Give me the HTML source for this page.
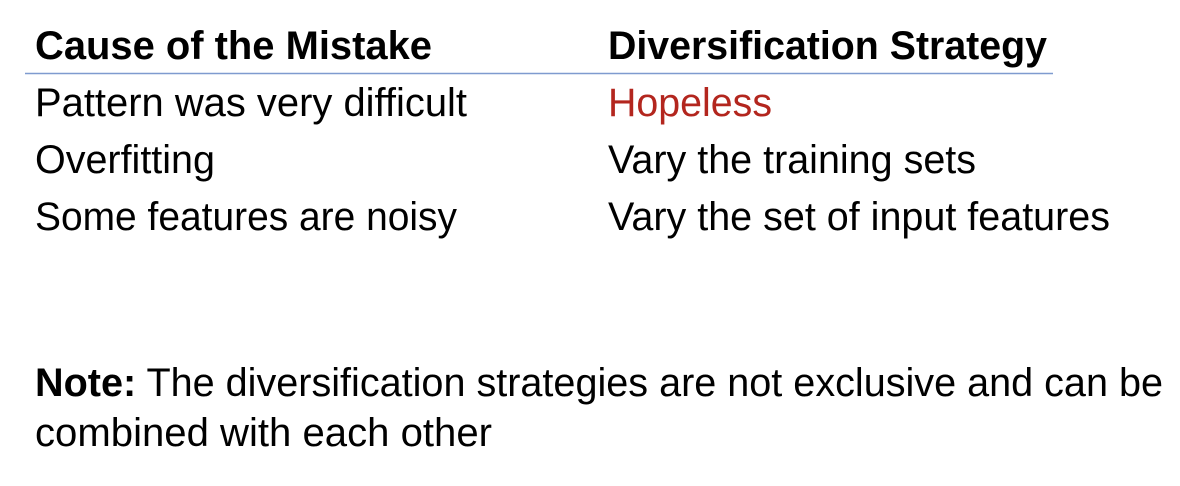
<!DOCTYPE html>
<html><head><meta charset="utf-8"><style>
html,body{margin:0;padding:0;background:#fff;width:1180px;height:486px;overflow:hidden}
svg text{font-family:"Liberation Sans",Arial,sans-serif;font-size:40px;fill:#000}
.b{font-weight:bold}
</style></head><body>
<svg width="1180" height="486" xmlns="http://www.w3.org/2000/svg">
<text x="35" y="59" class="b" textLength="397" lengthAdjust="spacingAndGlyphs">Cause of the Mistake</text>
<text x="608" y="59" class="b" textLength="439" lengthAdjust="spacingAndGlyphs">Diversification Strategy</text>
<line x1="25" y1="73.5" x2="1053" y2="73.5" stroke="#7f9bcf" stroke-width="1.5"/>
<text x="35" y="116" textLength="432" lengthAdjust="spacingAndGlyphs">Pattern was very difficult</text>
<text x="608" y="116" style="fill:#b3261e" textLength="164" lengthAdjust="spacingAndGlyphs">Hopeless</text>
<text x="35" y="173" textLength="180" lengthAdjust="spacingAndGlyphs">Overfitting</text>
<text x="608" y="173" textLength="368" lengthAdjust="spacingAndGlyphs">Vary the training sets</text>
<text x="35" y="230" textLength="422" lengthAdjust="spacingAndGlyphs">Some features are noisy</text>
<text x="608" y="230" textLength="502" lengthAdjust="spacingAndGlyphs">Vary the set of input features</text>
<text x="35" y="396" textLength="1128" lengthAdjust="spacingAndGlyphs"><tspan class="b">Note:</tspan> The diversification strategies are not exclusive and can be</text>
<text x="35" y="446" textLength="457" lengthAdjust="spacingAndGlyphs">combined with each other</text>
</svg>
</body></html>
